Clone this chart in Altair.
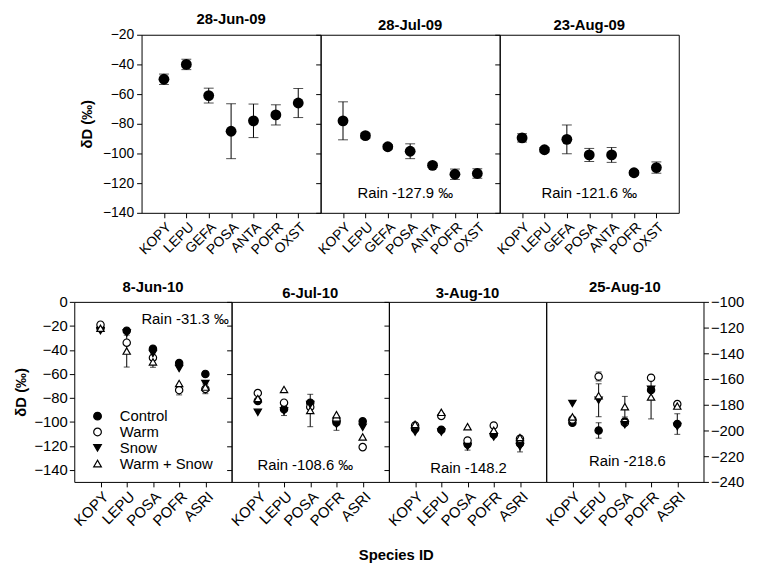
import altair as alt
import pandas as pd

FONT = "Liberation Sans"

# ---------------- 2009 data (single series, mean ± error) ----------------
species_09 = ["KOPY", "LEPU", "GEFA", "POSA", "ANTA", "POFR", "OXST"]
dates_09 = ["28-Jun-09", "28-Jul-09", "23-Aug-09"]
mean_jun09 = [-50, -40, -61, -85, -78, -74, -66]
err_jun09 = [3.5, 3.5, 5, 18.5, 11.3, 6.8, 9.8]
mean_jul09 = [-78, -88, -95.5, -98.5, -108, -114, -113.5]
err_jul09 = [12.8, 1.7, 1.5, 5, 1.5, 3.5, 3.2]
mean_aug09 = [-89.5, -97.5, -90.5, -101, -101, -113, -109.5]
err_aug09 = [2.8, 1.5, 9.7, 4.4, 5, 1.5, 3.8]
means_09 = [mean_jun09, mean_jul09, mean_aug09]
errs_09 = [err_jun09, err_jul09, err_aug09]
rain_09 = ["", "Rain -127.9 \u2030", "Rain -121.6 \u2030"]
rain_09_y = [None, -126.5, -126.5]
rain_09_dx = [0, -5, 0]

# ---------------- 2010 data (four treatments) ----------------
species_10 = ["KOPY", "LEPU", "POSA", "POFR", "ASRI"]
dates_10 = ["8-Jun-10", "6-Jul-10", "3-Aug-10", "25-Aug-10"]
treatments = ["Control", "Warm", "Snow", "Warm + Snow"]

jun10 = {"Control": [-22, -24, -39, -51, -60],
         "Warm": [-19, -34, -46.5, -73.5, -72.5],
         "Snow": [-24, -26, -43, -55.5, -68],
         "Warm + Snow": [-22, -41, -50, -68, -71]}
jun10_err = {"Control": [0, 0, 0, 0, 0],
             "Warm": [0, 0, 0, 4, 4],
             "Snow": [0, 0, 0, 0, 0],
             "Warm + Snow": [0, 13.3, 4.5, 0, 0]}
jul10 = {"Control": [-82.5, -89.5, -84, -100.5, -99.5],
         "Warm": [-76, -84, -87.5, -98.5, -121],
         "Snow": [-92, -91, -85.5, -102, -104.5],
         "Warm + Snow": [-80.5, -73, -90.5, -94, -112.5]}
jul10_err = {"Control": [0, 0, 0, 0, 0],
             "Warm": [0, 0, 0, 0, 0],
             "Snow": [0, 3.7, 0, 5, 0],
             "Warm + Snow": [0, 0, 13.5, 0, 0]}
aug10 = {"Control": [-106, -106.5, -118.5, -110.5, -118],
         "Warm": [-103, -95, -115.5, -103, -114],
         "Snow": [-108.5, -108.5, -120.5, -112.5, -120.5],
         "Warm + Snow": [-102, -92, -104, -107, -113]}
aug10_err = {"Control": [0, 0, 0, 0, 0],
             "Warm": [0, 0, 0, 0, 0],
             "Snow": [0, 0, 3, 0, 4.5],
             "Warm + Snow": [0, 0, 0, 0, 0]}
aug25_10 = {"Control": [-194, -200, -193, -168.5, -195],
            "Warm": [-191.5, -158, -194, -159, -179.5],
            "Snow": [-179, -176.5, -195.5, -168, -197],
            "Warm + Snow": [-189.5, -173, -181.5, -174, -181]}
aug25_10_err = {"Control": [0, 6, 0, 0, 8],
                "Warm": [0, 3.5, 0, 0, 0],
                "Snow": [0, 12.8, 0, 0, 0],
                "Warm + Snow": [0, 0, 8, 17, 0]}
means_10 = [jun10, jul10, aug10, aug25_10]
errs_10 = [jun10_err, jul10_err, aug10_err, aug25_10_err]
rain_10 = ["Rain -31.3 \u2030", "Rain -108.6 \u2030", "Rain -148.2", "Rain -218.6"]
rain_10_y = [-14, -136, -138.5, -223.5]
rain_10_sp = ["POFR", "POSA", "POSA", "POSA"]
rain_10_dx = [6, -5, 1, 2.5]

shape_range = ["circle", "circle", "triangle-down", "triangle-up"]
fill_range = ["black", "white", "black", "white"]
stroke_range = ["black", "black", "black", "black"]

TOP_W, TOP_H = 181, 180
BOT_W, BOT_H = 159, 182


def top_panel(i):
    df = pd.DataFrame({"sp": species_09, "m": means_09[i], "e": errs_09[i]})
    df["lo"] = df["m"] - df["e"]
    df["hi"] = df["m"] + df["e"]
    xenc = alt.X("sp:N", sort=species_09,
                 scale=alt.Scale(type="point", padding=1),
                 axis=alt.Axis(title=None, labelAngle=-45, labelFontSize=14, domain=False))
    yscale = alt.Scale(domain=[-140, -20], nice=False, zero=False)
    ticks = list(range(-140, -19, 20))
    if i == 0:
        yaxis = alt.Axis(values=ticks, title="\u03b4D (\u2030)", domain=False, titlePadding=8,
                         labelPadding=3)
    else:
        yaxis = alt.Axis(values=ticks, title=None, labels=False, domain=False)
    ytitle = "\u03b4D (\u2030)" if i == 0 else None
    base = alt.Chart(df)
    rule = base.mark_rule(color="black", strokeWidth=1).encode(
        x=xenc, y=alt.Y("lo:Q", scale=yscale, axis=yaxis, title=ytitle), y2="hi:Q")
    cap_lo = base.mark_tick(orient="horizontal", size=10, thickness=1, color="black").encode(
        x=xenc, y=alt.Y("lo:Q", scale=yscale, axis=yaxis, title=ytitle))
    cap_hi = base.mark_tick(orient="horizontal", size=10, thickness=1, color="black").encode(
        x=xenc, y=alt.Y("hi:Q", scale=yscale, axis=yaxis, title=ytitle))
    pts = base.mark_point(filled=True, size=120, color="black", opacity=1).encode(
        x=xenc, y=alt.Y("m:Q", scale=yscale, axis=yaxis, title=ytitle))
    layers = [rule, cap_lo, cap_hi, pts]
    if rain_09[i]:
        tdf = pd.DataFrame({"sp": ["POSA"], "y": [rain_09_y[i]], "t": [rain_09[i]]})
        txt = alt.Chart(tdf).mark_text(font=FONT, fontSize=15, color="black",
                                       dx=rain_09_dx[i]).encode(
            x=xenc, y=alt.Y("y:Q", scale=yscale, axis=yaxis, title=ytitle), text="t:N")
        layers.append(txt)
    return alt.layer(*layers).properties(
        width=TOP_W, height=TOP_H,
        title=alt.TitleParams(dates_09[i], offset=1))


def bottom_panel(j):
    rows = []
    for t in treatments:
        for s, v, e in zip(species_10, means_10[j][t], errs_10[j][t]):
            rows.append({"sp": s, "trt": t, "m": v, "e": e, "lo": v - e, "hi": v + e})
    df = pd.DataFrame(rows)
    edf = df[df["e"] > 0]
    last = j == 3
    if last:
        dom = [-240, -100]
        ticks = list(range(-240, -99, 20))
    else:
        dom = [-150, 0]
        ticks = list(range(-140, 1, 20))
    yscale = alt.Scale(domain=dom, nice=False, zero=False)
    ytitle = None
    if j == 0:
        yaxis = alt.Axis(values=ticks, domain=False, titlePadding=6, labelFontSize=15)
        ytitle = "\u03b4D (\u2030)"
    elif last:
        yaxis = alt.Axis(values=ticks, orient="right", domain=False, labelFontSize=15)
    else:
        yaxis = alt.Axis(values=ticks, labels=False, domain=False)
    xenc = alt.X("sp:N", sort=species_10,
                 scale=alt.Scale(type="point", padding=1),
                 axis=alt.Axis(title=None, labelAngle=-45, labelFontSize=15, domain=False))

    def Y(f):
        return alt.Y(f, scale=yscale, axis=yaxis, title=ytitle)

    shape_scale = alt.Scale(domain=treatments, range=shape_range)
    fill_scale = alt.Scale(domain=treatments, range=fill_range)
    stroke_scale = alt.Scale(domain=treatments, range=stroke_range)
    if j == 0:
        leg = alt.Legend(title=None, orient="none", legendX=16, legendY=108,
                         labelFontSize=15, labelFont=FONT, labelColor="black",
                         symbolSize=60, symbolStrokeWidth=1.2,
                         labelOffset=15, rowPadding=0, padding=0)
    else:
        leg = None
    eb = alt.Chart(edf)
    rule = eb.mark_rule(color="black", strokeWidth=1).encode(x=xenc, y=Y("lo:Q"), y2="hi:Q")
    cap_lo = eb.mark_tick(orient="horizontal", size=6, thickness=1, color="black").encode(
        x=xenc, y=Y("lo:Q"))
    cap_hi = eb.mark_tick(orient="horizontal", size=6, thickness=1, color="black").encode(
        x=xenc, y=Y("hi:Q"))
    pts = alt.Chart(df).mark_point(size=55, strokeWidth=1.2,
                                   opacity=1, fillOpacity=1).encode(
        x=xenc, y=Y("m:Q"),
        shape=alt.Shape("trt:N", scale=shape_scale, legend=leg, sort=treatments),
        fill=alt.Fill("trt:N", scale=fill_scale, legend=leg, sort=treatments),
        stroke=alt.Stroke("trt:N", scale=stroke_scale, legend=leg, sort=treatments))
    tdf = pd.DataFrame({"sp": [rain_10_sp[j]], "y": [rain_10_y[j]], "t": [rain_10[j]]})
    txt = alt.Chart(tdf).mark_text(font=FONT, fontSize=15, color="black",
                                   dx=rain_10_dx[j]).encode(x=xenc, y=Y("y:Q"), text="t:N")
    ch = alt.layer(rule, cap_lo, cap_hi, pts, txt).properties(
        width=BOT_W, height=BOT_H,
        title=alt.TitleParams(dates_10[j], offset=0))
    return ch


spacer = alt.Chart(pd.DataFrame({"a": [0]})).mark_point(opacity=0).encode(
    x=alt.value(0), y=alt.value(0)).properties(
    width=68, height=TOP_H, view=alt.ViewBackground(strokeOpacity=0))

top_row = alt.hconcat(spacer, *[top_panel(i) for i in range(3)], spacing=0, bounds="flush")
bottom_row = alt.hconcat(*[bottom_panel(j) for j in range(4)], spacing=0, bounds="flush") \
    .resolve_scale(shape="independent", fill="independent", stroke="independent") \
    .resolve_legend(shape="independent", fill="independent", stroke="independent")

chart = alt.vconcat(top_row, bottom_row, spacing=22).resolve_scale(
    shape="independent", fill="independent", stroke="independent").resolve_legend(
    shape="independent", fill="independent", stroke="independent").properties(
    title=alt.TitleParams("Species ID", orient="bottom", anchor="middle", offset=19,
                          font=FONT, fontSize=15, fontWeight="bold", color="black", dx=18),
    padding={"left": 4, "top": 0, "right": 5, "bottom": 5},
).configure_view(stroke="black", strokeWidth=1).configure_axis(
    labelFont=FONT, labelFontSize=14, labelColor="black", tickColor="black",
    domainColor="black", titleFont=FONT, titleFontSize=15, titleFontWeight="bold",
    titleColor="black", grid=False, tickSize=5, labelPadding=2, tickWidth=1,
).configure_title(font=FONT, fontSize=15, fontWeight="bold", color="black")

chart.save("out.html", embed_options={"renderer": "svg", "actions": False})
